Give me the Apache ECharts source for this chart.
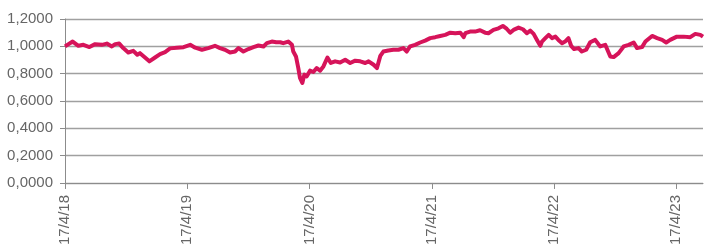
<!DOCTYPE html>
<html>
<head>
<meta charset="utf-8">
<script src="https://cdn.jsdelivr.net/npm/echarts@6/dist/echarts.min.js"></script>
<style>
html, body { margin: 0; padding: 0; background: #fff; }
#main { width: 705px; height: 248px; }
</style>
</head>
<body>
<div id="main"></div>
<script>
// index values, one per date
const dates = [
    '2018-04-17', '2018-05-10', '2018-05-27', '2018-06-11', '2018-06-29', '2018-07-16', '2018-08-05', '2018-08-20',
    '2018-09-04', '2018-09-14', '2018-09-26', '2018-10-08', '2018-10-23', '2018-11-07', '2018-11-19', '2018-11-27',
    '2018-12-12', '2018-12-25', '2019-01-11', '2019-01-26', '2019-02-10', '2019-02-25', '2019-03-17', '2019-04-06',
    '2019-04-26', '2019-05-11', '2019-05-31', '2019-06-19', '2019-07-09', '2019-07-24', '2019-08-08', '2019-08-23',
    '2019-09-07', '2019-09-17', '2019-10-02', '2019-10-17', '2019-11-01', '2019-11-16', '2019-12-01', '2019-12-11',
    '2019-12-26', '2020-01-08', '2020-01-20', '2020-01-29', '2020-02-13', '2020-02-24', '2020-02-28', '2020-03-07',
    '2020-03-14', '2020-03-19', '2020-03-26', '2020-04-01', '2020-04-08', '2020-04-18', '2020-04-28', '2020-05-08',
    '2020-05-18', '2020-05-28', '2020-06-09', '2020-06-19', '2020-07-02', '2020-07-17', '2020-08-01', '2020-08-16',
    '2020-08-31', '2020-09-15', '2020-09-30', '2020-10-10', '2020-10-25', '2020-11-04', '2020-11-08', '2020-11-14',
    '2020-11-23', '2020-12-08', '2020-12-23', '2021-01-07', '2021-01-22', '2021-02-01', '2021-02-11', '2021-02-26',
    '2021-03-13', '2021-03-28', '2021-04-12', '2021-04-27', '2021-05-12', '2021-05-27', '2021-06-11', '2021-06-26',
    '2021-07-11', '2021-07-21', '2021-07-26', '2021-08-09', '2021-08-24', '2021-09-08', '2021-09-23', '2021-10-03',
    '2021-10-18', '2021-11-02', '2021-11-15', '2021-11-27', '2021-12-07', '2021-12-17', '2022-01-01', '2022-01-14',
    '2022-01-26', '2022-02-05', '2022-02-15', '2022-02-25', '2022-03-07', '2022-03-12', '2022-03-22', '2022-04-01',
    '2022-04-11', '2022-04-21', '2022-04-30', '2022-05-11', '2022-05-20', '2022-05-30', '2022-06-07', '2022-06-16',
    '2022-06-29', '2022-07-09', '2022-07-22', '2022-08-03', '2022-08-18', '2022-09-02', '2022-09-17', '2022-10-02',
    '2022-10-12', '2022-10-27', '2022-11-11', '2022-11-26', '2022-12-11', '2022-12-21', '2023-01-05', '2023-01-15',
    '2023-02-04', '2023-02-19', '2023-03-06', '2023-03-18', '2023-03-30', '2023-04-19', '2023-05-09', '2023-05-29',
    '2023-06-13', '2023-06-28', '2023-07-06'
];
const values = [
    1.000, 1.035, 1.004, 1.011, 0.995, 1.016, 1.011, 1.020,
    0.999, 1.016, 1.020, 0.987, 0.955, 0.967, 0.938, 0.950,
    0.918, 0.890, 0.918, 0.943, 0.958, 0.985, 0.990, 0.994,
    1.011, 0.990, 0.975, 0.987, 1.004, 0.987, 0.975, 0.955,
    0.962, 0.987, 0.962, 0.980, 0.994, 1.006, 0.999, 1.023,
    1.035, 1.030, 1.030, 1.023, 1.035, 1.011, 0.962, 0.926,
    0.841, 0.769, 0.732, 0.793, 0.780, 0.822, 0.812, 0.841,
    0.822, 0.853, 0.918, 0.878, 0.890, 0.882, 0.902, 0.878,
    0.895, 0.890, 0.878, 0.890, 0.865, 0.841, 0.853, 0.930,
    0.962, 0.970, 0.975, 0.975, 0.987, 0.962, 0.999, 1.011,
    1.028, 1.042, 1.060, 1.067, 1.076, 1.084, 1.100, 1.096,
    1.100, 1.067, 1.096, 1.108, 1.108, 1.118, 1.100, 1.096,
    1.120, 1.132, 1.149, 1.127, 1.100, 1.120, 1.137, 1.125,
    1.096, 1.115, 1.091, 1.047, 1.004, 1.035, 1.060, 1.084,
    1.060, 1.071, 1.047, 1.023, 1.035, 1.060, 1.004, 0.980,
    0.987, 0.962, 0.975, 1.030, 1.047, 0.999, 1.011, 0.926,
    0.921, 0.950, 0.999, 1.011, 1.028, 0.987, 0.994, 1.035,
    1.076, 1.060, 1.047, 1.028, 1.047, 1.071, 1.071, 1.067,
    1.091, 1.084, 1.071
];
const tickDates = ['2018-04-17', '2019-04-17', '2020-04-17', '2021-04-17', '2022-04-17', '2023-04-17'];
const tickLabels = ['17/4/18', '17/4/19', '17/4/20', '17/4/21', '17/4/22', '17/4/23'];

const DAY = 86400000;
const t0 = Date.parse(dates[0]);
function dayOf(d) {
    return Math.round((Date.parse(d) - t0) / DAY);
}
const tickDays = tickDates.map(dayOf);

const textColor = '#666666';
const font = 'Liberation Sans, Arial, sans-serif';

const myChart = echarts.init(document.getElementById('main'));
let option = {
    animation: false,
    grid: {
        left: 65,
        right: 2,
        top: 19,
        bottom: 64
    },
    xAxis: {
        type: 'value',
        min: 0,
        max: dayOf(dates[dates.length - 1]),
        splitLine: { show: false },
        axisLine: { lineStyle: { color: '#8c8c8c', width: 1 } },
        axisTick: {
            show: true,
            length: 6,
            customValues: tickDays,
            lineStyle: { color: '#8c8c8c' }
        },
        axisLabel: {
            customValues: tickDays,
            rotate: 90,
            margin: 12,
            color: textColor,
            fontFamily: font,
            fontSize: 15,
            formatter: function (v) {
                const i = tickDays.indexOf(Math.round(v));
                return i >= 0 ? tickLabels[i] : '';
            }
        }
    },
    yAxis: {
        type: 'value',
        min: 0,
        max: 1.2,
        interval: 0.2,
        axisLine: { show: true, lineStyle: { color: '#8c8c8c', width: 1 } },
        axisTick: { show: true, length: 5, lineStyle: { color: '#8c8c8c' } },
        splitLine: { lineStyle: { color: '#a0a0a0', width: 1.4 } },
        axisLabel: {
            margin: 12,
            color: textColor,
            fontFamily: font,
            fontSize: 15,
            formatter: function (v) {
                return v.toFixed(4).replace('.', ',');
            }
        }
    },
    series: [
        {
            type: 'line',
            showSymbol: false,
            data: dates.map((d, i) => [dayOf(d), values[i]]),
            lineStyle: { color: '#d6145a', width: 4, join: 'round' },
            itemStyle: { color: '#d6145a' }
        }
    ]
};
myChart.setOption(option);
</script>
</body>
</html>
